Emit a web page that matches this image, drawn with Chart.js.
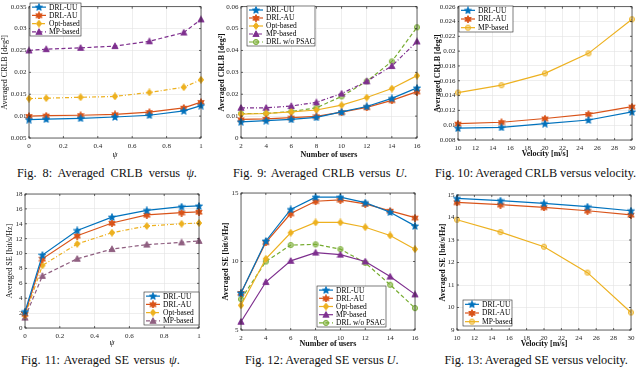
<!DOCTYPE html>
<html><head><meta charset="utf-8">
<script src="https://cdn.jsdelivr.net/npm/chart.js@4.4.0/dist/chart.umd.min.js"></script>
<style>
html,body{margin:0;padding:0;background:#fff;width:640px;height:369px;overflow:hidden;position:relative;}
canvas{position:absolute;}
.cap{position:absolute;font-family:"Liberation Serif","Times New Roman",serif;font-size:12.3px;color:#111;white-space:nowrap;line-height:14px;display:inline-block;}
</style></head><body>
<canvas id="c8"></canvas><canvas id="c9"></canvas><canvas id="c10"></canvas>
<canvas id="c11"></canvas><canvas id="c12"></canvas><canvas id="c13"></canvas>
<div class="cap" data-l="17" data-r="197" data-cy="173">Fig. 8: Averaged CRLB versus <i>ψ</i>.</div>
<div class="cap" data-l="233" data-r="407" data-cy="173">Fig. 9: Averaged CRLB versus <i>U</i>.</div>
<div class="cap" data-l="435" data-r="636" data-cy="173">Fig. 10: Averaged CRLB versus velocity.</div>
<div class="cap" data-l="21" data-r="180" data-cy="360">Fig. 11: Averaged SE versus <i>ψ</i>.</div>
<div class="cap" data-c="322" data-ws="2" data-cy="360">Fig. 12: Averaged SE versus <i>U</i>.</div>
<div class="cap" data-c="536" data-ws="2" data-cy="360">Fig. 13: Averaged SE versus velocity.</div>
<script>
// ---------- data ----------
const psi = [0, 0.1, 0.3, 0.5, 0.7, 0.9, 1];
const users = [2, 4, 6, 8, 10, 12, 14, 16];
const velocity = [10, 15, 20, 25, 30];

const psiTicks = [0, 0.2, 0.4, 0.6, 0.8, 1];
const userTicks = [2, 4, 6, 8, 10, 12, 14, 16];
const velTicks = [10, 12, 14, 16, 18, 20, 22, 24, 26, 28, 30];

// Fig 8: CRLB vs psi
const crlbPsiTicks = [0.005, 0.01, 0.015, 0.02, 0.025, 0.03, 0.035];
const crlbPsi_UU  = [0.0092, 0.0093, 0.0095, 0.0098, 0.0102, 0.0112, 0.0124];
const crlbPsi_AU  = [0.0100, 0.0101, 0.0102, 0.0104, 0.0109, 0.0119, 0.0132];
const crlbPsi_Opt = [0.0140, 0.0141, 0.0143, 0.0145, 0.0154, 0.0166, 0.0183];
const crlbPsi_MP  = [0.0250, 0.0253, 0.0256, 0.0260, 0.0271, 0.0291, 0.0321];

// Fig 9: CRLB vs users
const crlbU_Ticks = [0, 0.01, 0.02, 0.03, 0.04, 0.05, 0.06];
const crlbU_UU   = [0.0074, 0.0079, 0.0085, 0.0094, 0.0119, 0.0144, 0.0181, 0.0229];
const crlbU_AU   = [0.0085, 0.0087, 0.0093, 0.0099, 0.0118, 0.0140, 0.0172, 0.0212];
const crlbU_Opt  = [0.0109, 0.0112, 0.0119, 0.0128, 0.0150, 0.0185, 0.0226, 0.0285];
const crlbU_MP   = [0.0138, 0.0138, 0.0146, 0.0163, 0.0203, 0.0259, 0.0329, 0.0441];
const crlbU_noPS = [0.0112, 0.0112, 0.0121, 0.0138, 0.0190, 0.0259, 0.0350, 0.0506];

// Fig 10: CRLB vs velocity
const crlbV_Ticks = [0.008, 0.01, 0.012, 0.014, 0.016, 0.018, 0.02, 0.022, 0.024, 0.026];
const crlbV_UU = [0.0096, 0.0097, 0.0102, 0.0107, 0.0118];
const crlbV_AU = [0.0102, 0.0104, 0.0109, 0.0115, 0.0125];
const crlbV_MP = [0.0144, 0.0154, 0.0170, 0.0197, 0.0243];

// Fig 11: SE vs psi
const sePsiTicks = [0, 2, 4, 6, 8, 10, 12, 14, 16, 18];
const sePsi_UU  = [2.2, 9.8, 13.1, 14.9, 15.8, 16.3, 16.4];
const sePsi_AU  = [1.9, 9.3, 12.4, 14.1, 15.2, 15.5, 15.6];
const sePsi_Opt = [1.7, 8.4, 11.3, 12.8, 13.7, 14.0, 14.1];
const sePsi_MP  = [1.4, 7.0, 9.3, 10.6, 11.2, 11.5, 11.7];

// Fig 12: SE vs users
const seU_Ticks = [5, 10, 15];
const seU_UU   = [7.7, 11.5, 13.8, 14.7, 14.7, 14.3, 13.6, 12.6];
const seU_AU   = [7.7, 11.4, 13.5, 14.4, 14.5, 14.2, 13.7, 13.2];
const seU_Opt  = [6.8, 10.2, 12.1, 12.85, 12.85, 12.5, 11.9, 10.9];
const seU_MP   = [5.6, 8.5, 10.05, 10.65, 10.5, 10.0, 8.9, 7.6];
const seU_noPS = [7.25, 10.0, 11.2, 11.25, 10.9, 9.9, 8.3, 6.6];

// Fig 13: SE vs velocity
const seV_Ticks = [9, 10, 11, 12, 13, 14, 15];
const seV_UU = [14.85, 14.75, 14.63, 14.48, 14.3];
const seV_AU = [14.67, 14.57, 14.45, 14.3, 14.12];
const seV_MP = [13.9, 13.35, 12.7, 11.55, 9.78];

// ---------- styling ----------
const FONT = '"Liberation Serif","Times New Roman",serif';
const COL = {blue:'#0072BD', orange:'#D95319', yellow:'#EDB120', purple:'#7E2F8E', green:'#77AC30', mauve:'#8F5F80'};
const SOLID = [], DASH = [4, 2.5], DASHDOT = [4, 2, 1, 2];

function marker(shape, color, fill) {
  const n = 8, c = document.createElement('canvas');
  c.width = n; c.height = n;
  const g = c.getContext('2d'), m = n / 2;
  g.beginPath();
  if (shape === 'star5' || shape === 'star6') {
    const k = shape === 'star5' ? 5 : 6, ro = 3.7, ri = shape === 'star5' ? 1.6 : 2.0;
    for (let i = 0; i < 2 * k; i++) {
      const r = i % 2 ? ri : ro, a = -Math.PI / 2 + i * Math.PI / k;
      const px = m + r * Math.cos(a), py = m + 0.3 + r * Math.sin(a);
      i ? g.lineTo(px, py) : g.moveTo(px, py);
    }
  } else if (shape === 'diamond') {
    g.moveTo(m, m - 3.4); g.lineTo(m + 2.7, m); g.lineTo(m, m + 3.4); g.lineTo(m - 2.7, m);
  } else if (shape === 'tri') {
    g.moveTo(m, m - 3.2); g.lineTo(m + 3.1, m + 2.5); g.lineTo(m - 3.1, m + 2.5);
  } else {
    g.arc(m, m, 2.6, 0, Math.PI * 2);
  }
  g.closePath();
  g.fillStyle = fill; g.fill();
  g.strokeStyle = color; g.lineWidth = 0.9; g.stroke();
  return c;
}

function ds(label, xs, ys, color, dash, shape, fill) {
  return {
    label, data: xs.map((x, i) => ({x, y: ys[i]})),
    borderColor: color, backgroundColor: color, borderWidth: 1.2, borderDash: dash,
    pointStyle: marker(shape, color, fill || color), pointRadius: 4, tension: 0, clip: false
  };
}

const boxAxes = {
  id: 'boxAxes',
  afterDatasetsDraw(chart, args, o) {
    const {ctx, chartArea: a} = chart;
    const xs = chart.scales.x, ys = chart.scales.y;
    ctx.save();
    ctx.strokeStyle = '#262626'; ctx.lineWidth = 0.7; ctx.setLineDash([]);
    ctx.beginPath();
    const tl = 2;
    xs.ticks.forEach(t => { const p = xs.getPixelForValue(t.value);
      ctx.moveTo(p, a.bottom); ctx.lineTo(p, a.bottom - tl); ctx.moveTo(p, a.top); ctx.lineTo(p, a.top + tl); });
    ys.ticks.forEach(t => { const p = ys.getPixelForValue(t.value);
      ctx.moveTo(a.left, p); ctx.lineTo(a.left + tl, p); ctx.moveTo(a.right, p); ctx.lineTo(a.right - tl, p); });
    ctx.stroke();
    ctx.strokeRect(a.left, a.top, a.right - a.left, a.bottom - a.top);
    // legend
    const L = o.legend;
    const lx = L.x - o.cx, ly = L.y - o.cy, n = chart.data.datasets.length, rh = L.h / n;
    ctx.fillStyle = '#fff'; ctx.fillRect(lx, ly, L.w, L.h);
    ctx.strokeStyle = '#262626'; ctx.lineWidth = 0.6; ctx.strokeRect(lx, ly, L.w, L.h);
    ctx.font = '7.5px ' + FONT; ctx.textBaseline = 'middle'; ctx.textAlign = 'left';
    chart.data.datasets.forEach((d, i) => {
      const yy = ly + rh * (i + 0.5);
      ctx.strokeStyle = d.borderColor; ctx.lineWidth = 1.2; ctx.setLineDash(d.borderDash);
      ctx.beginPath(); ctx.moveTo(lx + 2, yy); ctx.lineTo(lx + 16, yy); ctx.stroke();
      ctx.setLineDash([]);
      const img = d.pointStyle; ctx.drawImage(img, lx + 9 - img.width / 2, yy - img.height / 2);
      ctx.fillStyle = '#000'; ctx.fillText(d.label, lx + 19, yy + 0.5);
    });
    ctx.restore();
  }
};

function fmt(v) { return String(+v.toFixed(4)); }

function makeChart(id, g, datasets, sc) {
  const cv = document.getElementById(id);
  cv.width = g.cw; cv.height = g.ch;
  cv.style.left = g.cx + 'px'; cv.style.top = g.cy + 'px';
  const tfs = 8, lh = tfs * 1.2;
  const gridC = '#e2e2e2';
  new Chart(cv, {
    type: 'line',
    data: {datasets},
    plugins: [boxAxes],
    options: {
      responsive: false, animation: false, devicePixelRatio: 1,
      layout: {autoPadding: false, padding: {left: 0, top: g.T - g.cy, right: g.cx + g.cw - g.R, bottom: 0}},
      plugins: {legend: {display: false}, tooltip: {enabled: false},
        boxAxes: {legend: sc.legend, cx: g.cx, cy: g.cy}},
      scales: {
        x: {
          type: 'linear', min: sc.xmin, max: sc.xmax,
          afterFit(s) { s.height = g.cy + g.ch - g.B; },
          afterBuildTicks(s) { s.ticks = sc.xticks.map(v => ({value: v})); },
          ticks: {font: {family: FONT, size: 7}, color: '#262626', padding: sc.xtp || 3.5, maxRotation: 0, autoSkip: false, callback: fmt},
          grid: {color: gridC, lineWidth: 0.6, drawTicks: false}, border: {display: false},
          title: {display: true, text: sc.xtitle, color: '#111',
            font: {family: FONT, size: tfs, weight: sc.bold ? 'bold' : 'normal', style: sc.xitalic ? 'italic' : 'normal'},
            padding: {top: 0, bottom: (g.cy + g.ch) - sc.xty - lh / 2}}
        },
        y: {
          type: 'linear', min: sc.ymin, max: sc.ymax,
          afterFit(s) { s.width = g.L - g.cx; },
          afterBuildTicks(s) { s.ticks = sc.yticks.map(v => ({value: v})); },
          ticks: {font: {family: FONT, size: 7}, color: '#262626', padding: 2.5, autoSkip: false, callback: fmt},
          grid: {color: gridC, lineWidth: 0.6, drawTicks: false}, border: {display: false},
          title: {display: true, text: sc.ytitle, color: '#111',
            font: {family: FONT, size: tfs, weight: sc.bold ? 'bold' : 'normal'},
            padding: {top: sc.ytx - g.cx - lh / 2, bottom: 0}}
        }
      }
    }
  });
}

// Fig 8
makeChart('c8', {cx: 0, cy: 0, cw: 212, ch: 160, L: 29, T: 2, R: 201, B: 138}, [
  ds('DRL-UU', psi, crlbPsi_UU, COL.blue, SOLID, 'star5'),
  ds('DRL-AU', psi, crlbPsi_AU, COL.orange, SOLID, 'star6'),
  ds('Opt-based', psi, crlbPsi_Opt, COL.yellow, DASHDOT, 'diamond'),
  ds('MP-based', psi, crlbPsi_MP, COL.purple, DASH, 'tri')
], {xmin: 0, xmax: 1, xticks: psiTicks, ymin: 0.005, ymax: 0.035, yticks: crlbPsiTicks,
   xtitle: 'ψ', xitalic: true, ytitle: 'Averaged CRLB [deg²]', bold: false, xty: 155, ytx: 5,
   legend: {x: 30, y: 3, w: 51, h: 33}});

// Fig 9
makeChart('c9', {cx: 214, cy: 0, cw: 212, ch: 160, L: 241, T: 2, R: 417, B: 138}, [
  ds('DRL-UU', users, crlbU_UU, COL.blue, SOLID, 'star5'),
  ds('DRL-AU', users, crlbU_AU, COL.orange, SOLID, 'star6'),
  ds('Opt-based', users, crlbU_Opt, COL.yellow, SOLID, 'diamond'),
  ds('MP-based', users, crlbU_MP, COL.purple, DASHDOT, 'tri'),
  ds('DRL w/o PSAC', users, crlbU_noPS, COL.green, DASH, 'circle', 'rgba(119,172,48,0.55)')
], {xmin: 2, xmax: 16, xticks: userTicks, ymin: 0, ymax: 0.06, yticks: crlbU_Ticks,
   xtitle: 'Number of users', ytitle: 'Averaged CRLB [deg²]', bold: true, xty: 155, ytx: 222,
   legend: {x: 247, y: 6, w: 68, h: 40}});

// Fig 10
makeChart('c10', {cx: 430, cy: 0, cw: 210, ch: 160, L: 458, T: 2, R: 632, B: 140}, [
  ds('DRL-UU', velocity, crlbV_UU, COL.blue, SOLID, 'star5'),
  ds('DRL-AU', velocity, crlbV_AU, COL.orange, SOLID, 'star6'),
  ds('MP-based', velocity, crlbV_MP, COL.yellow, SOLID, 'circle', 'rgba(237,177,32,0.45)')
], {xmin: 10, xmax: 30, xticks: velTicks, ymin: 0.008, ymax: 0.026, yticks: crlbV_Ticks,
   xtitle: 'Velocity [m/s]', ytitle: 'Averaged CRLB [deg²]', bold: true, xty: 154, ytx: 438,
   legend: {x: 459, y: 6, w: 54, h: 26}});

// Fig 11
makeChart('c11', {cx: 0, cy: 180, cw: 212, ch: 170, L: 25, T: 194, R: 199, B: 328}, [
  ds('DRL-UU', psi, sePsi_UU, COL.blue, SOLID, 'star5'),
  ds('DRL-AU', psi, sePsi_AU, COL.orange, SOLID, 'star6'),
  ds('Opt-based', psi, sePsi_Opt, COL.yellow, DASHDOT, 'diamond'),
  ds('MP-based', psi, sePsi_MP, COL.mauve, DASH, 'tri')
], {xmin: 0, xmax: 1, xticks: psiTicks, ymin: 0, ymax: 18, yticks: sePsiTicks,
   xtitle: 'ψ', xitalic: true, ytitle: 'Averaged SE [bit/s/Hz]', bold: false, xty: 343, ytx: 10,
   legend: {x: 144, y: 292, w: 55, h: 33}});

// Fig 12
makeChart('c12', {cx: 214, cy: 180, cw: 212, ch: 170, L: 241, T: 193, R: 415, B: 330}, [
  ds('DRL-UU', users, seU_UU, COL.blue, SOLID, 'star5'),
  ds('DRL-AU', users, seU_AU, COL.orange, SOLID, 'star6'),
  ds('Opt-based', users, seU_Opt, COL.yellow, SOLID, 'diamond'),
  ds('MP-based', users, seU_MP, COL.purple, SOLID, 'tri'),
  ds('DRL w/o PSAC', users, seU_noPS, COL.green, DASH, 'circle', 'rgba(119,172,48,0.55)')
], {xmin: 2, xmax: 16, xticks: userTicks, ymin: 5, ymax: 15, yticks: seU_Ticks,
   xtitle: 'Number of users', ytitle: 'Averaged SE [bit/s/Hz]', bold: true, xty: 344, ytx: 226,
   legend: {x: 317, y: 286, w: 69, h: 41}});

// Fig 13
makeChart('c13', {cx: 432, cy: 180, cw: 208, ch: 170, L: 457, T: 195, R: 631, B: 330}, [
  ds('DRL-UU', velocity, seV_UU, COL.blue, SOLID, 'star5'),
  ds('DRL-AU', velocity, seV_AU, COL.orange, SOLID, 'star6'),
  ds('MP-based', velocity, seV_MP, COL.yellow, SOLID, 'circle', 'rgba(237,177,32,0.45)')
], {xmin: 10, xmax: 30, xticks: velTicks, ymin: 9, ymax: 15, yticks: seV_Ticks,
   xtitle: 'Velocity [m/s]', ytitle: 'Averaged SE [bit/s/Hz]', bold: true, xty: 344, ytx: 443,
   legend: {x: 463, y: 300, w: 49, h: 26}});

// ---------- caption placement (word spacing fitted to the reference widths) ----------
const caps = Array.from(document.querySelectorAll('.cap'));
const wsList = [];
caps.forEach(el => {
  const nSp = (el.textContent.match(/ /g) || []).length;
  const h = el.offsetHeight;
  el.style.top = (+el.dataset.cy - h / 2) + 'px';
  if (el.dataset.l) {
    const w0 = el.offsetWidth, target = el.dataset.r - el.dataset.l;
    const ws = (target - w0) / nSp;
    el.style.wordSpacing = ws + 'px';
    el.style.left = el.dataset.l + 'px';
    wsList.push(ws);
  } else {
    el.style.wordSpacing = wsList[+el.dataset.ws] + 'px';
    el.style.left = (+el.dataset.c - el.offsetWidth / 2) + 'px';
  }
});
</script>
</body></html>
